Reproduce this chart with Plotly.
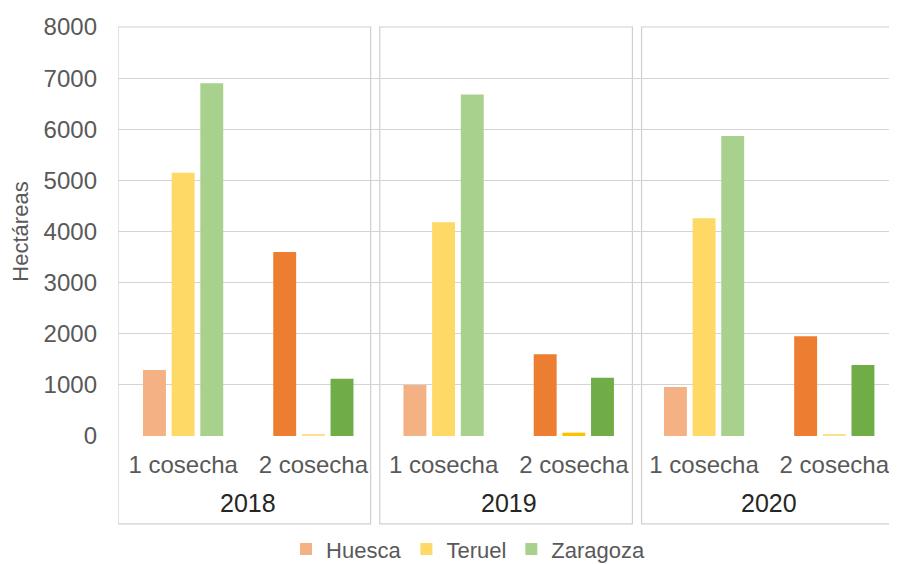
import plotly.graph_objects as go

years = ["2018", "2019", "2020"]
harvests = ["1 cosecha", "2 cosecha"]
categories = [f"{y} {h}" for y in years for h in harvests]
tick_labels = [h for y in years for h in harvests]

huesca = [1290, 3600, 1000, 1600, 960, 1950]
teruel = [5150, 40, 4180, 65, 4260, 30]
zaragoza = [6900, 1120, 6680, 1140, 5870, 1390]

huesca_colors = ["#F4B183", "#ED7D31"] * 3
teruel_colors = ["#FFD966", "#FFE08A", "#FFD966", "#FFC000", "#FFD966", "#FFE08A"]
zaragoza_colors = ["#A9D18E", "#70AD47"] * 3

series = [("Huesca", huesca, huesca_colors),
          ("Teruel", teruel, teruel_colors),
          ("Zaragoza", zaragoza, zaragoza_colors)]

fig = go.Figure()
for name, vals, cols in series:
    fig.add_trace(go.Bar(x=categories, y=vals, name=name,
                         marker=dict(color=cols, line=dict(width=0))))

FONT = "Liberation Sans, Arial, sans-serif"
GRID = "#D4D4D4"

# the page body has an 8px margin; the figure fills the rest of the window
fig.update_layout(
    width=881, height=556,
    margin=dict(l=110, r=0, t=19, b=128, autoexpand=False),
    paper_bgcolor="white", plot_bgcolor="white",
    barmode="group", bargap=0.34, bargroupgap=0.2,
    font=dict(family=FONT, size=23, color="#595959"),
    showlegend=True,
    legend=dict(orientation="h", x=0.454, xanchor="center", y=-0.277, yanchor="middle",
                font=dict(size=22, color="#595959"), itemwidth=30,
                traceorder="normal", bgcolor="rgba(0,0,0,0)"),
)
fig.update_xaxes(type="category", categoryorder="array", categoryarray=categories,
                 tickvals=categories, ticktext=tick_labels, range=[-0.5, 5.42],
                 showgrid=False, zeroline=False, showline=False, ticks="",
                 ticklabelstandoff=12, automargin=False,
                 tickfont=dict(size=24, color="#595959"))
fig.update_yaxes(range=[0, 8000], dtick=1000, showgrid=True, gridcolor=GRID, gridwidth=1.3,
                 zeroline=False, showline=False, ticks="", ticklabelstandoff=20,
                 automargin=False,
                 tickfont=dict(size=24, color="#595959"),
                 title=dict(text="Hectáreas", font=dict(size=22, color="#595959"), standoff=14))

# year labels under each pair of categories
for i, y in enumerate(years):
    fig.add_annotation(x=2 * i + 0.5, xref="x", y=-0.165, yref="paper", text=y,
                       showarrow=False, font=dict(size=25, color="#262626"),
                       yanchor="middle")

# panel boxes
box_spans = [(-0.5, 1.44), (1.51, 3.45), (3.52, 5.7)]
for x0, x1 in box_spans:
    fig.add_shape(type="rect", xref="x", yref="paper", x0=x0, x1=x1, y0=-0.215, y1=1,
                  line=dict(color="#CFCFCF", width=1.2), fillcolor="rgba(0,0,0,0)",
                  layer="below")

fig.write_html("out.html")
